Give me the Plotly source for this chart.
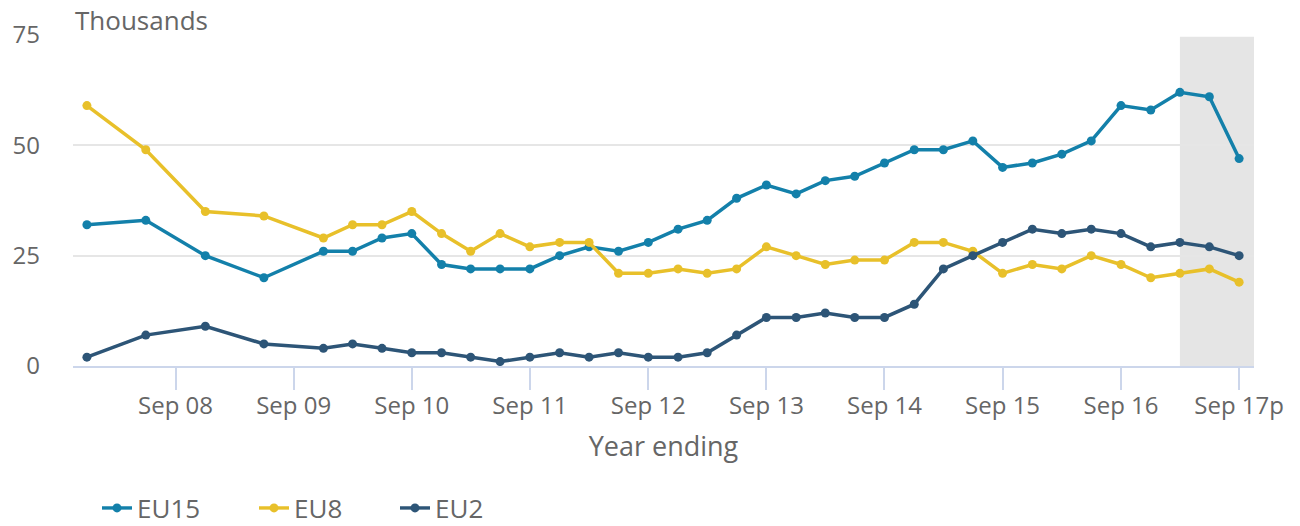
import plotly.graph_objects as go

dates = ["2007-12-31", "2008-06-30", "2008-12-31", "2009-06-30", "2009-12-31",
         "2010-03-31", "2010-06-30", "2010-09-30", "2010-12-31",
         "2011-03-31", "2011-06-30", "2011-09-30", "2011-12-31",
         "2012-03-31", "2012-06-30", "2012-09-30", "2012-12-31",
         "2013-03-31", "2013-06-30", "2013-09-30", "2013-12-31",
         "2014-03-31", "2014-06-30", "2014-09-30", "2014-12-31",
         "2015-03-31", "2015-06-30", "2015-09-30", "2015-12-31",
         "2016-03-31", "2016-06-30", "2016-09-30", "2016-12-31",
         "2017-03-31", "2017-06-30", "2017-09-30"]

eu15 = [32, 33, 25, 20, 26, 26, 29, 30, 23, 22, 22, 22, 25, 27, 26, 28, 31, 33, 38,
        41, 39, 42, 43, 46, 49, 49, 51, 45, 46, 48, 51, 59, 58, 62, 61, 47]
eu8 = [59, 49, 35, 34, 29, 32, 32, 35, 30, 26, 30, 27, 28, 28, 21, 21, 22, 21, 22,
       27, 25, 23, 24, 24, 28, 28, 26, 21, 23, 22, 25, 23, 20, 21, 22, 19]
eu2 = [2, 7, 9, 5, 4, 5, 4, 3, 3, 2, 1, 2, 3, 2, 3, 2, 2, 3, 7,
       11, 11, 12, 11, 11, 14, 22, 25, 28, 31, 30, 31, 30, 27, 28, 27, 25]

tick_vals = ["2008-09-30", "2009-09-30", "2010-09-30", "2011-09-30", "2012-09-30",
             "2013-09-30", "2014-09-30", "2015-09-30", "2016-09-30", "2017-09-30"]
tick_text = ["Sep 08", "Sep 09", "Sep 10", "Sep 11", "Sep 12",
             "Sep 13", "Sep 14", "Sep 15", "Sep 16", "Sep 17p"]

provisional_start = "2017-03-31"
x_range = ["2007-11-18", "2017-11-15"]

series = [("EU15", eu15, "#1380aa"), ("EU8", eu8, "#e8c02a"), ("EU2", eu2, "#2d5577")]
legend_ids = ["legend", "legend2", "legend3"]
legend_x = [89, 246, 387]

FONT = "Open Sans"
TXT = "#666666"
# the page body adds an 8px offset, so the figure is 8px smaller than the window
W, H = 1292, 518

fig = go.Figure()
for (name, vals, col), lid in zip(series, legend_ids):
    fig.add_trace(go.Scatter(
        x=dates, y=vals, name=name, mode="lines+markers",
        line=dict(color=col, width=3.5),
        marker=dict(color=col, size=9),
        legend=lid,
    ))

fig.add_shape(type="rect", xref="x", yref="paper",
              x0=provisional_start, x1=x_range[1], y0=0, y1=0.995,
              fillcolor="#e5e5e5", line=dict(width=0), layer="between")

fig.add_annotation(text="Thousands", xref="paper", yref="paper", x=0, y=1,
                   xanchor="left", yanchor="bottom", yshift=-5, showarrow=False,
                   font=dict(family=FONT, size=26, color=TXT))

legend_common = dict(orientation="h", xref="container", yref="container",
                     xanchor="left", yanchor="middle", y=1 - 500 / H,
                     font=dict(family=FONT, size=26, color=TXT),
                     itemclick=False, bgcolor="rgba(0,0,0,0)")
legends = {lid: dict(x=lx / W, **legend_common) for lid, lx in zip(legend_ids, legend_x)}

fig.update_layout(
    width=W, height=H,
    margin=dict(l=65, r=46, t=27, b=160, autoexpand=False),
    plot_bgcolor="white", paper_bgcolor="white",
    font=dict(family=FONT, color=TXT),
    showlegend=True,
    xaxis=dict(type="date", range=x_range, tickmode="array",
               tickvals=tick_vals, ticktext=tick_text, automargin=False,
               showgrid=False, showline=True, linecolor="#ccd6eb", linewidth=2,
               ticks="outside", ticklen=22, tickwidth=2, tickcolor="#ccd6eb",
               tickfont=dict(family=FONT, size=24, color=TXT),
               ticklabelstandoff=-5,
               title=dict(text="Year ending", standoff=17,
                          font=dict(family=FONT, size=27, color=TXT)),
               zeroline=False),
    yaxis=dict(range=[0, 75], tickvals=[0, 25, 50, 75], showgrid=True,
               gridcolor="#e6e6e6", gridwidth=2, zeroline=False, showline=False,
               automargin=False,
               tickfont=dict(family=FONT, size=24, color=TXT),
               ticklabelstandoff=32),
    **legends,
)

fig.write_html("out.html")
